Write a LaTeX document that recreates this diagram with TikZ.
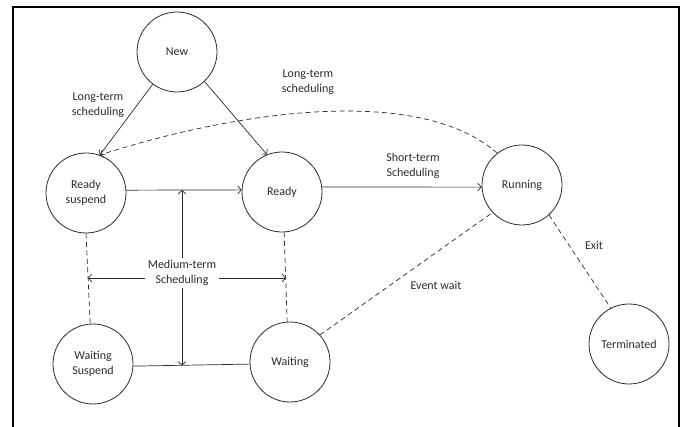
\documentclass[tikz,border=0pt]{standalone}
\usepackage{fontspec}
\setmainfont{Carlito}
\usetikzlibrary{arrows.meta}
\definecolor{ink}{HTML}{2B2B2B}
\tikzset{
  state/.style={circle, draw=ink, line width=0.8pt, minimum size=80pt, inner sep=0pt, align=center, text=ink, font=\fontsize{12}{14.5}\selectfont},
  lbl/.style={align=center, text=ink, font=\fontsize{12}{14.5}\selectfont, inner sep=1pt},
  conn/.style={draw=ink, line width=0.7pt},
  dsh/.style={conn, dash pattern=on 5pt off 3.5pt},
  tip/.style={-{Straight Barb[length=3.5pt,width=8pt]}},
  tips/.style={{Straight Barb[length=3.5pt,width=8pt]}-{Straight Barb[length=3.5pt,width=8pt]}},
}
\begin{document}
\begin{tikzpicture}[x=1pt,y=-1pt]
\useasboundingbox (0,0) rectangle (685,427);
\draw[line width=2pt] (13,428) -- (13,7) -- (679,7) -- (679,428);

\node[state] (new) at (177,52) {New};
\node[state] (rs) at (86,193) {Ready\\suspend};
\node[state] (rd) at (282,192) {Ready};
\node[state] (run) at (522,185) {Running};
\node[state] (ws) at (93,364) {Waiting\\Suspend};
\node[state] (wt) at (290,362) {Waiting};
\node[state] (term) at (629,344) {Terminated};

\coordinate (vtop) at (182,190);
\coordinate (vbot) at (182,365.5);
\coordinate (hl) at (88,278);
\coordinate (hr) at (286,278);

% solid connectors
\draw[conn,tip] (new.233) -- (rs.70);
\draw[conn,tip] (new.313) -- (rd.112);
\draw[conn,tip] (rs.4) -- (rd.177);
\draw[conn,tip] (rd.7) -- (run.183);
\draw[conn] (ws.-3) -- (wt.183);
\draw[conn,tips] (vtop) -- (vbot);
\draw[conn,tips] (hl) -- (hr);

% dashed connectors
\draw[dsh,tip] (run.128) .. controls (420,85) and (240,110) .. (rs.70);
\draw[dsh] (rs.south) -- (ws.94);
\draw[dsh] (rd.-87) -- (wt.94);
\draw[dsh] (wt.42) -- (run.223);
\draw[dsh] (run.312) -- (term.117);

% labels
\node[lbl] (l1) at (98,105) {Long-term\\scheduling};
\node[lbl] (l2) at (308,82) {Long-term\\scheduling};
\node[lbl] (l3) at (413,166) {Short-term\\Scheduling};
\node[lbl, fill=white, inner sep=3pt] (l4) at (182,273) {Medium-term\\Scheduling};
\node[lbl] (l5) at (436,285) {Event wait};
\node[lbl] (l6) at (594,245) {Exit};
\end{tikzpicture}
\end{document}
